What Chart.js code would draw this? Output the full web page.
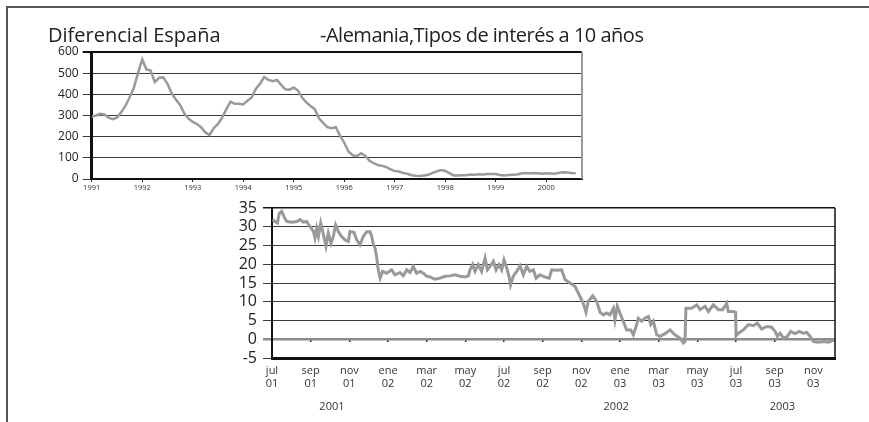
<!DOCTYPE html>
<html><head><meta charset="utf-8">
<script src="https://cdn.jsdelivr.net/npm/chart.js@4"></script>
<style>
html,body{margin:0;padding:0;background:#fff;}
#wrap{position:relative;width:869px;height:422px;overflow:hidden;background:#fff;}
#frame{position:absolute;left:6px;top:6px;width:870px;height:430px;border-top:2px solid #555;border-left:2px solid #555;box-sizing:border-box;}
canvas{position:absolute;}
</style></head>
<body>
<div id="wrap">
<div id="frame"></div>
<canvas id="c1" width="869" height="200" style="left:0;top:0;width:869px;height:200px"></canvas>
<canvas id="c2" width="869" height="227" style="left:0;top:195px;width:869px;height:227px"></canvas>
</div>
<script>
// ---------- Top chart: monthly spread 1991-2000 (basis points) ----------
const topTitle1 = 'Diferencial España';
const topTitle2 = '-Alemania,Tipos de interés a 10 años';
const topYearLabels = ['1991','1992','1993','1994','1995','1996','1997','1998','1999','2000'];
const topYearTicks = [0,12,24,36,48,60,72,84,96,108]; // months since Jan 1991
const topValues = [
 294,300,308,305,290,283,290,315,345,385,430,500,
 565,518,512,458,478,480,450,405,375,350,310,285,
 270,260,245,220,208,240,260,290,330,365,355,355,
 352,370,385,425,450,482,468,462,468,445,424,422,
 432,418,385,362,345,330,287,265,245,240,245,205,
 172,130,112,108,122,110,86,75,66,62,57,45,
 38,35,28,25,18,15,14,17,20,29,36,42,
 38,28,17,16,18,18,21,20,22,21,24,24,
 24,19,17,19,20,21,26,28,27,28,27,25,
 27,26,25,29,32,31,28,27
];

// ---------- Bottom chart: daily spread jul 2001 - dic 2003 ----------
const spreadMonths = [
 0.03,0.16,0.28,0.38,0.50,0.62,0.76,1.02,1.28,1.45,1.62,1.79,1.97,2.14,2.22,2.31,2.40,2.52,2.66,2.79,
 2.91,3.05,3.17,3.29,3.43,3.60,3.78,3.95,4.03,4.24,4.38,4.55,4.72,4.90,5.07,5.16,5.24,5.33,5.41,5.47,
 5.53,5.59,5.72,5.93,6.19,6.36,6.62,6.79,6.97,7.14,7.31,7.48,7.66,7.83,7.97,8.17,8.43,8.69,8.95,9.21,
 9.47,9.72,9.98,10.16,10.24,10.38,10.50,10.67,10.84,11.02,11.14,11.28,11.45,11.59,11.74,11.88,12.00,12.14,12.28,12.34,
 12.48,12.66,12.83,13.00,13.17,13.34,13.52,13.66,13.86,14.12,14.34,14.47,14.72,14.98,15.16,15.41,15.67,15.93,16.10,16.24,
 16.36,16.59,16.79,16.97,17.14,17.31,17.48,17.66,17.74,17.86,18.03,18.17,18.34,18.55,18.69,18.83,18.95,19.12,19.29,19.47,
 19.59,19.72,19.90,20.07,20.33,20.59,20.84,21.10,21.28,21.36,21.41,21.53,21.71,21.97,22.14,22.40,22.57,22.83,23.09,23.31,
 23.52,23.60,23.86,23.98,24.00,24.12,24.38,24.64,24.90,25.10,25.33,25.59,25.84,26.02,26.14,26.28,26.45,26.66,26.83,27.05,
 27.28,27.48,27.66,27.83,28.00,28.26,28.52,28.78,29.12
];
const spreadValues = [
 32.0,31.4,31.0,33.6,34.1,32.7,31.4,31.2,31.4,31.9,31.2,31.4,30.0,28.8,27.0,29.6,27.4,31.0,27.9,24.8,
 28.3,25.6,27.4,30.5,28.7,27.4,26.5,26.1,28.7,28.5,26.5,25.2,27.4,28.7,28.7,27.4,25.2,24.3,22.1,19.4,
 17.6,16.3,18.1,17.6,18.5,17.2,17.8,16.9,18.5,17.8,19.4,17.6,18.1,17.6,16.9,16.6,16.0,16.3,16.8,16.9,
 17.2,16.8,16.6,16.9,18.5,19.9,18.1,19.9,18.1,21.6,18.5,19.4,20.8,18.5,19.9,18.5,21.2,19.0,16.3,14.5,
 16.8,18.1,19.6,17.2,19.4,18.1,18.5,16.3,17.2,16.6,16.3,18.5,18.4,18.5,15.9,15.0,14.1,11.4,9.6,7.2,
 10.1,11.6,10.1,7.2,6.5,7.0,6.5,8.3,5.2,8.8,6.5,4.8,2.5,2.5,1.2,3.4,5.6,4.8,5.6,6.1,
 3.9,4.8,1.2,0.8,1.5,2.5,1.2,0.3,-1.0,-0.6,8.3,8.3,8.3,9.2,7.9,8.8,7.4,9.2,7.9,7.9,
 9.6,7.4,7.4,7.2,0.9,1.6,2.5,3.9,3.6,4.3,2.7,3.4,3.2,2.1,0.8,1.6,0.3,0.8,2.1,1.5,
 2.1,1.6,1.8,0.8,-0.6,-0.8,-0.6,-0.8,-0.1
];
const monthTicks = [0,2,4,6,8,10,12,14,16,18,20,22,24,26,28]; // months since jul 2001
const monthLabels = [
 ['jul','01'],['sep','01'],['nov','01'],['ene','02'],['mar','02'],['may','02'],['jul','02'],
 ['sep','02'],['nov','02'],['ene','03'],['mar','03'],['may','03'],['jul','03'],['sep','03'],['nov','03']
];
const yearLabels = ['2001','2002','2003'];
const yearLabelPos = [3.1, 17.8, 26.4];

const FONT = "'Open Sans', 'DejaVu Sans', sans-serif";

const titlePlugin = {
  id: 'titles',
  afterDraw(chart) {
    const ctx = chart.ctx;
    ctx.save();
    ctx.fillStyle = '#222';
    ctx.font = "20px " + FONT;
    ctx.textBaseline = 'alphabetic';
    ctx.textAlign = 'left';
    ctx.fillText(topTitle1, 48, 41.5);
    ctx.letterSpacing = '-0.5px';
    ctx.fillText(topTitle2, 320, 41.5);
    ctx.restore();
  }
};
const rightBorder = (color, width) => ({
  id: 'rb',
  afterDatasetsDraw(chart) {
    const a = chart.chartArea, ctx = chart.ctx;
    ctx.save();
    ctx.strokeStyle = color; ctx.lineWidth = width;
    ctx.beginPath(); ctx.moveTo(a.right, a.top); ctx.lineTo(a.right, a.bottom); ctx.stroke();
    ctx.restore();
  }
});
const yearPlugin = {
  id: 'years',
  afterDraw(chart) {
    const ctx = chart.ctx, xs = chart.scales.x, a = chart.chartArea;
    ctx.save();
    ctx.fillStyle = '#333';
    ctx.font = "11px " + FONT;
    ctx.textAlign = 'center'; ctx.textBaseline = 'middle';
    yearLabels.forEach((t, i) => ctx.fillText(t, xs.getPixelForValue(yearLabelPos[i]), a.bottom + 49));
    ctx.restore();
  }
};

new Chart(document.getElementById('c1'), {
  type: 'line',
  data: { datasets: [{ data: topValues.map((v, i) => ({ x: i, y: v })), borderColor: '#9a9a9a', borderWidth: 2.5, pointRadius: 0, tension: 0 }] },
  options: {
    responsive: false, animation: false, events: [],
    layout: { padding: { left: 0, right: 287, top: 52, bottom: 0 } },
    plugins: { legend: { display: false }, tooltip: { enabled: false } },
    scales: {
      x: {
        type: 'linear', min: 0, max: 116.5,
        afterBuildTicks: s => { s.ticks = topYearTicks.map(v => ({ value: v })); },
        afterFit: s => { s.height = 21; s.paddingLeft = 0; s.paddingRight = 0; },
        ticks: { autoSkip: false, maxRotation: 0, callback: (v, i) => topYearLabels[i], font: { family: FONT, size: 7.5 }, color: '#333', padding: 1 },
        grid: { drawOnChartArea: false, tickLength: 3, color: '#222' },
        border: { color: '#111', width: 2 }
      },
      y: {
        min: 0, max: 600,
        afterFit: s => { s.width = 91.7; s.paddingTop = 0; s.paddingBottom = 0; },
        ticks: { stepSize: 100, autoSkip: false, font: { family: FONT, size: 12 }, color: '#222', padding: 4 },
        grid: { color: c => c.tick && c.tick.value === 600 ? '#111' : '#3a3a3a', lineWidth: c => c.tick && c.tick.value === 600 ? 2 : 1, tickLength: 9 },
        border: { color: '#111', width: 3 }
      }
    }
  },
  plugins: [titlePlugin, rightBorder('#999', 2)]
});

new Chart(document.getElementById('c2'), {
  type: 'line',
  data: { datasets: [{ data: spreadMonths.map((m, i) => ({ x: m, y: spreadValues[i] })), borderColor: '#999', borderWidth: 3, pointRadius: 0, tension: 0 }] },
  options: {
    responsive: false, animation: false, events: [],
    layout: { padding: { left: 0, right: 34, top: 13, bottom: 0 } },
    plugins: { legend: { display: false }, tooltip: { enabled: false } },
    scales: {
      x: {
        type: 'linear', min: 0, max: 29.12,
        afterBuildTicks: s => { s.ticks = monthTicks.map(v => ({ value: v })); },
        afterFit: s => { s.height = 64; s.paddingLeft = 0; s.paddingRight = 0; },
        ticks: { autoSkip: false, maxRotation: 0, callback: (v, i) => monthLabels[i], font: { family: FONT, size: 11, lineHeight: 1.25 }, color: '#333', padding: 5.5 },
        grid: { drawOnChartArea: false, drawTicks: false },
        border: { color: '#111', width: 3 }
      },
      x2: {
        axis: 'x', type: 'linear', min: 0, max: 29.12, position: { y: 0 },
        afterBuildTicks: s => { s.ticks = monthTicks.map(v => ({ value: v })); },
        afterFit: s => { s.height = 0; s.paddingLeft = 0; s.paddingRight = 0; },
        ticks: { display: false },
        grid: { drawOnChartArea: false, tickLength: 3, color: '#222', lineWidth: 1.5 },
        border: { display: false }
      },
      y: {
        min: -5, max: 35,
        afterFit: s => { s.width = 272; s.paddingTop = 0; s.paddingBottom = 0; },
        ticks: { stepSize: 5, autoSkip: false, font: { family: FONT, size: 16 }, color: '#222', padding: 6 },
        grid: {
          color: c => !c.tick ? '#333' : (c.tick.value === 0 ? '#8c8c8c' : (c.tick.value === 35 ? '#111' : '#3a3a3a')),
          lineWidth: c => !c.tick ? 1 : (c.tick.value === 0 ? 2.5 : (c.tick.value === 35 ? 1.5 : 1)),
          tickLength: 9
        },
        border: { color: '#111', width: 2 }
      }
    }
  },
  plugins: [yearPlugin, rightBorder('#111', 1.5)]
});
</script>
</body></html>
